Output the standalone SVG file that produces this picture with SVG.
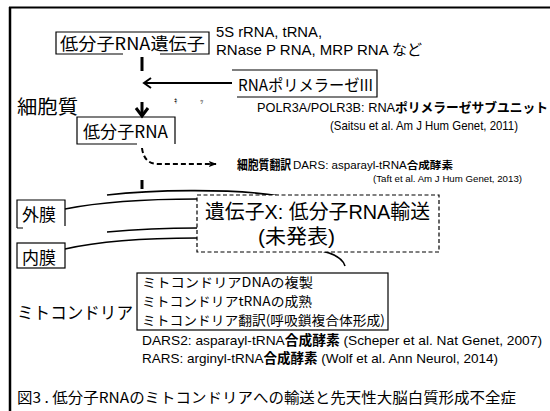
<svg xmlns="http://www.w3.org/2000/svg" width="550" height="411" viewBox="0 0 550 411">
<defs>
<style>
.t{font-family:"Noto Sans CJK JP","Noto Sans",sans-serif;fill:#000}
.l{font-family:"Liberation Sans","Noto Sans CJK JP",sans-serif;fill:#000}
.b{font-weight:700}
.box{fill:#fff;stroke:#000;stroke-width:1.2}
.ln{fill:none;stroke:#000;stroke-width:1.6}
</style>
<marker id="dot" viewBox="0 0 10 10" refX="9" refY="5" markerWidth="4" markerHeight="4" orient="auto">
<path d="M0,1 L10,5 L0,9 L2,5 Z" fill="#000"/>
</marker>
</defs>
<rect width="550" height="411" fill="#fff"/>
<g id="frame">
<line x1="9" y1="7.5" x2="550" y2="7.5" stroke="#000" stroke-width="2"/>
<line x1="10" y1="7" x2="10" y2="411" stroke="#000" stroke-width="2.5"/>
</g>
<g id="connectors">
<line x1="142" y1="57" x2="142" y2="71" stroke="#000" stroke-width="3"/>
<line x1="232" y1="83" x2="145" y2="83" stroke="#000" stroke-width="2"/>
<path d="M151,78 L144,83 L151,88" fill="none" stroke="#000" stroke-width="2"/>
<line x1="142" y1="102" x2="142" y2="115" stroke="#000" stroke-width="3"/>
<path d="M136,108 L142,116 L148,108" fill="none" stroke="#000" stroke-width="3"/>
<path d="M142,148 Q144,164 158,164 L216,164" fill="none" stroke="#000" stroke-width="2" stroke-dasharray="5,3" marker-end="url(#dot)"/>
<line x1="142" y1="180" x2="142" y2="189" stroke="#000" stroke-width="3"/>
<path class="ln" d="M107,195 C150,190 230,188 280,196"/>
<path class="ln" d="M65,209 C100,202 150,199 197,199"/>
<path class="ln" d="M107,232 C140,229 170,228 197,228"/>
<path class="ln" d="M65,249 C100,241 150,238 197,238"/>
<path class="ln" d="M322,251 C335,254 343,259 345,266"/>
</g>
<g id="gene">
<path d="M123,54 L56,54 L56,32 L209,32 L209,54 L160,54" fill="none" stroke="#000" stroke-width="1.2"/>
<text class="t" x="60" y="50" font-size="17" textLength="145" lengthAdjust="spacingAndGlyphs">低分子RNA遺伝子</text>
</g>
<g id="examples">
<text class="l" x="216" y="37" font-size="15" textLength="106" lengthAdjust="spacingAndGlyphs">5S rRNA, tRNA,</text>
<text class="l" x="216" y="55" font-size="15" textLength="206" lengthAdjust="spacingAndGlyphs">RNase P RNA, MRP RNA など</text>
</g>
<g id="polymerase">
<path d="M232,70 L377,70 L377,97 L237,97" fill="none" stroke="#000" stroke-width="1.2"/>
<text class="t" x="238" y="91" font-size="16" textLength="135" lengthAdjust="spacingAndGlyphs">RNAポリメラーゼIII</text>
<text class="l" x="257" y="112" font-size="13" textLength="291" lengthAdjust="spacingAndGlyphs">POLR3A/POLR3B: RNA<tspan class="b">ポリメラーゼサブユニット</tspan></text>
<text class="l" x="330" y="130" font-size="13" textLength="188" lengthAdjust="spacingAndGlyphs">(Saitsu et al. Am J Hum Genet, 2011)</text>
</g>
<g id="stray">
<text class="t" x="174" y="103" font-size="7">ｷ</text>
<text class="t" x="200" y="103" font-size="7">ｯ</text>
</g>
<g id="cytoplasm">
<text class="t" x="17" y="114" font-size="19" textLength="61" lengthAdjust="spacingAndGlyphs">細胞質</text>
</g>
<g id="smallrna">
<path d="M137,144 L77,144 L77,117 L175,117 L175,144" fill="none" stroke="#000" stroke-width="1.2"/>
<text class="t" x="83" y="138" font-size="17" textLength="85" lengthAdjust="spacingAndGlyphs">低分子RNA</text>
</g>
<g id="translation">
<text class="t b" x="237" y="169" font-size="13" textLength="54" lengthAdjust="spacingAndGlyphs">細胞質翻訳</text>
<text class="l" x="293" y="169" font-size="10" textLength="160" lengthAdjust="spacingAndGlyphs">DARS: asparayl-tRNA<tspan class="b">合成酵素</tspan></text>
<text class="l" x="373" y="182" font-size="9.5" textLength="149" lengthAdjust="spacingAndGlyphs" fill="#222">(Taft et al. Am J Hum Genet, 2013)</text>
</g>
<g id="outer">
<path d="M17,228 L17,200 L65,200 L65,226 M17,228 L23,228" fill="none" stroke="#000" stroke-width="1.2"/>
<text class="t" x="22" y="221" font-size="17">外膜</text>
</g>
<g id="inner">
<rect x="17" y="243" width="48" height="25" class="box"/>
<text class="t" x="22" y="264" font-size="17">内膜</text>
</g>
<g id="geneX">
<rect x="197" y="195" width="242" height="57" fill="#fff" stroke="#000" stroke-width="1.2" stroke-dasharray="4,2.5"/>
<text class="l" x="205" y="219" font-size="20" textLength="225" lengthAdjust="spacingAndGlyphs">遺伝子X: 低分子RNA輸送</text>
<text class="l" x="258" y="244" font-size="20" textLength="77" lengthAdjust="spacingAndGlyphs">(未発表)</text>
</g>
<g id="mito">
<text class="t" x="17" y="319" font-size="17" textLength="116" lengthAdjust="spacingAndGlyphs">ミトコンドリア</text>
<rect x="137" y="273" width="251" height="57" class="box"/>
<text class="t" x="142" y="287" font-size="13" textLength="171" lengthAdjust="spacingAndGlyphs">ミトコンドリアDNAの複製</text>
<text class="t" x="142" y="306" font-size="13" textLength="170" lengthAdjust="spacingAndGlyphs">ミトコンドリアtRNAの成熟</text>
<text class="t" x="142" y="325" font-size="13" textLength="243" lengthAdjust="spacingAndGlyphs">ミトコンドリア翻訳(呼吸鎖複合体形成)</text>
<text class="l" x="142" y="345" font-size="13.5" textLength="400" lengthAdjust="spacingAndGlyphs">DARS2: asparayl-tRNA<tspan class="b">合成酵素</tspan> (Scheper et al. Nat Genet, 2007)</text>
<text class="l" x="142" y="363" font-size="13.5" textLength="356" lengthAdjust="spacingAndGlyphs">RARS: arginyl-tRNA<tspan class="b">合成酵素</tspan> (Wolf et al. Ann Neurol, 2014)</text>
</g>
<g id="caption">
<text class="t" x="17" y="403" font-size="14.5" textLength="499" lengthAdjust="spacingAndGlyphs">図3 . 低分子RNAのミトコンドリアへの輸送と先天性大脳白質形成不全症</text>
</g>
</svg>
